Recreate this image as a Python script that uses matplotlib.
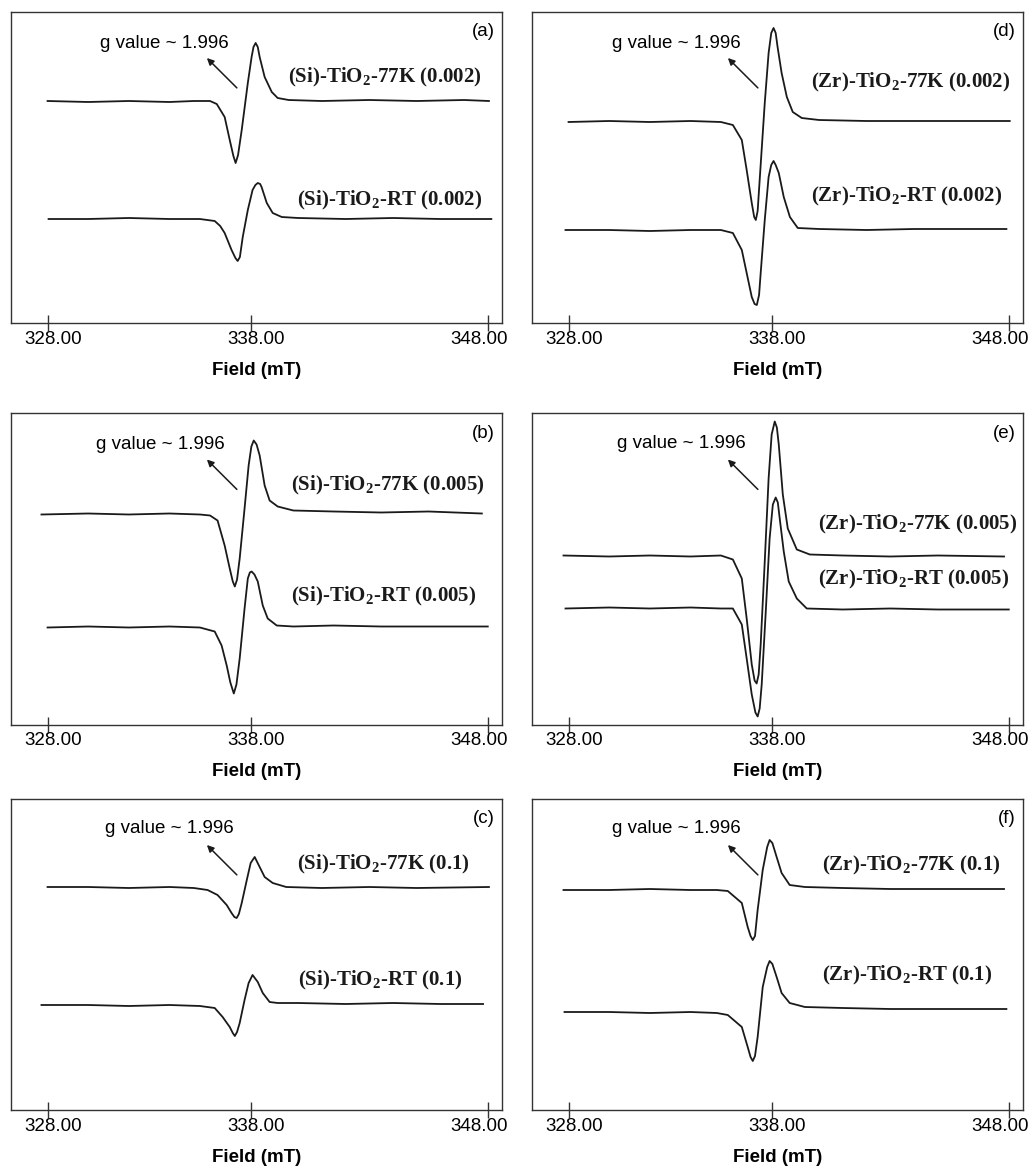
import numpy as np
import matplotlib
matplotlib.use('Agg')
import matplotlib.pyplot as plt
from matplotlib.transforms import ScaledTranslation

plt.rcParams['font.family'] = ['Liberation Sans', 'DejaVu Sans']
plt.rcParams['mathtext.fontset'] = 'custom'
plt.rcParams['mathtext.rm'] = 'Liberation Serif'
plt.rcParams['mathtext.bf'] = 'Liberation Serif:bold'

# EPR spectra, field in mT, intensity in arbitrary units
si_002_77k_x = [328.0, 330, 332, 334, 335.2, 336.0, 336.33, 336.72, 336.97, 337.15, 337.26, 337.38, 337.56, 337.86,
                338.04, 338.12, 338.21, 338.3, 338.38, 338.59, 338.89, 339.14, 339.6, 341, 343, 345, 347, 348.05]
si_002_77k_y = [222, 221, 222, 221, 222, 222, 219, 206, 183, 167, 160, 168, 193, 240,
                266, 276, 280, 276, 266, 246, 231, 225, 223, 222, 223, 222, 223, 222]
si_002_rt_x = [328.05, 330, 332, 334, 335.5, 336.23, 336.5, 336.72, 337.06, 337.25, 337.36, 337.47, 337.61, 337.86,
               338.08, 338.2, 338.3, 338.4, 338.46, 338.68, 338.93, 339.31, 340, 342, 344, 346, 348.15]
si_002_rt_y = [104, 104, 105, 104, 104, 102, 97, 90, 73, 65, 62, 66, 86, 113,
               133, 138, 140, 139, 136, 120, 110, 106, 105, 104, 105, 104, 104]

si_005_77k_x = [327.7, 330, 332, 334, 335.5, 336.0, 336.37, 336.72, 336.97, 337.12, 337.22, 337.33, 337.46, 337.7,
                337.9, 338.03, 338.13, 338.25, 338.38, 338.59, 338.8, 339.14, 339.8, 341.5, 343.5, 345.5, 347.75]
si_005_77k_y = [210, 211, 210, 211, 210, 209, 204, 179, 156, 143, 138, 145, 166, 216,
                259, 278, 284, 280, 269, 239, 224, 218, 214, 213, 212, 213, 211]
si_005_rt_x = [328, 330, 332, 334, 335.5, 336.23, 336.57, 336.82, 337.0, 337.17, 337.3, 337.46, 337.7, 337.86,
               337.96, 338.04, 338.16, 338.3, 338.51, 338.72, 339.1, 339.8, 341.5, 343.5, 345.5, 348]
si_005_rt_y = [97, 98, 97, 98, 97, 93, 79, 59, 42, 31, 40, 66, 116, 146,
               152, 153, 150, 143, 119, 106, 99, 98, 99, 98, 98, 98]

si_01_77k_x = [328, 330, 332, 334, 335.2, 335.88, 336.37, 336.82, 337.06, 337.2, 337.31, 337.42, 337.56, 337.81,
               338.0, 338.17, 338.38, 338.59, 338.93, 339.5, 341, 343, 345, 348.05]
si_01_77k_y = [223, 223, 222, 223, 222, 220, 215, 205, 197, 193, 192, 196, 207, 230,
               247, 253, 243, 233, 227, 223, 222, 223, 222, 223]
si_01_rt_x = [327.7, 330, 332, 334, 335.5, 336.23, 336.62, 336.97, 337.12, 337.22, 337.33, 337.46, 337.7, 337.9,
              338.08, 338.3, 338.51, 338.8, 339.14, 340, 342, 344, 346, 347.8]
si_01_rt_y = [105, 105, 104, 105, 104, 102, 93, 83, 77, 74, 78, 87, 110, 127,
              135, 128, 117, 108, 107, 107, 106, 107, 106, 106]

zr_002_77k_x = [328, 330, 332, 334, 335.5, 336.09, 336.53, 336.77, 337.02, 337.14, 337.22, 337.31, 337.41, 337.66,
                337.85, 337.98, 338.08, 338.17, 338.25, 338.42, 338.64, 338.89, 339.27, 340, 342, 344, 346, 348.04]
zr_002_77k_y = [201, 202, 201, 202, 201, 198, 183, 153, 120, 106, 103, 112, 143, 220,
                270, 290, 295, 290, 276, 250, 226, 211, 205, 203, 202, 202, 202, 202]
zr_002_rt_x = [327.85, 330, 332, 334, 335.5, 336.09, 336.53, 336.77, 337.02, 337.16, 337.27, 337.38, 337.46, 337.66,
               337.85, 337.98, 338.08, 338.17, 338.3, 338.51, 338.77, 339.1, 340, 342, 344, 346, 347.9]
zr_002_rt_y = [93, 93, 92, 93, 93, 90, 73, 50, 26, 19, 18, 28, 50, 103,
               146, 158, 162, 158, 150, 126, 106, 95, 94, 93, 94, 94, 94]

zr_005_77k_x = [327.75, 330, 332, 334, 335.5, 336.09, 336.53, 336.77, 337.02, 337.16, 337.26, 337.36, 337.46, 337.66,
                337.85, 338.0, 338.13, 338.22, 338.3, 338.47, 338.68, 339.06, 339.61, 341, 343, 345, 347.8]
zr_005_77k_y = [169, 168, 169, 168, 169, 165, 146, 106, 60, 44, 41, 50, 80, 163,
                246, 290, 303, 297, 280, 230, 196, 175, 170, 169, 168, 169, 168]
zr_005_rt_x = [327.85, 330, 332, 334, 335.5, 336.09, 336.53, 336.77, 337.02, 337.2, 337.31, 337.41, 337.51, 337.71,
               337.9, 338.05, 338.17, 338.26, 338.34, 338.51, 338.72, 339.06, 339.48, 341, 343, 345, 348.0]
zr_005_rt_y = [116, 117, 116, 117, 116, 116, 100, 66, 30, 12, 8, 16, 40, 113,
               186, 220, 227, 222, 206, 173, 143, 126, 116, 115, 116, 115, 115]

zr_01_77k_x = [327.75, 330, 332, 334, 335.3, 335.84, 336.53, 336.82, 336.96, 337.07, 337.18, 337.31, 337.56, 337.78,
               337.9, 338.03, 338.21, 338.42, 338.76, 339.4, 341, 343, 345, 347.8]
zr_01_77k_y = [220, 220, 221, 220, 220, 219, 207, 183, 174, 170, 174, 200, 240, 263,
               270, 267, 253, 237, 225, 223, 222, 221, 221, 221]
zr_01_rt_x = [327.8, 330, 332, 334, 335.3, 335.84, 336.53, 336.82, 336.96, 337.07, 337.18, 337.31, 337.56, 337.78,
              337.9, 338.03, 338.21, 338.42, 338.76, 339.4, 341, 343, 345, 347.9]
zr_01_rt_y = [98, 98, 97, 98, 97, 95, 83, 63, 53, 49, 54, 73, 123, 143,
              149, 146, 133, 117, 107, 103, 102, 101, 101, 101]

panel_letters = ['(a)', '(b)', '(c)', '(d)', '(e)', '(f)']
labels_77k = [r'(Si)-TiO$_\mathbf{2}$-77K (0.002)', r'(Si)-TiO$_\mathbf{2}$-77K (0.005)', r'(Si)-TiO$_\mathbf{2}$-77K (0.1)',
              r'(Zr)-TiO$_\mathbf{2}$-77K (0.002)', r'(Zr)-TiO$_\mathbf{2}$-77K (0.005)', r'(Zr)-TiO$_\mathbf{2}$-77K (0.1)']
labels_rt = [r'(Si)-TiO$_\mathbf{2}$-RT (0.002)', r'(Si)-TiO$_\mathbf{2}$-RT (0.005)', r'(Si)-TiO$_\mathbf{2}$-RT (0.1)',
             r'(Zr)-TiO$_\mathbf{2}$-RT (0.002)', r'(Zr)-TiO$_\mathbf{2}$-RT (0.005)', r'(Zr)-TiO$_\mathbf{2}$-RT (0.1)']
tick_fields = [328, 338, 348]
tick_labels = ['328.00', '338.00', '348.00']

curves = [
    (si_002_77k_x, si_002_77k_y, si_002_rt_x, si_002_rt_y),
    (si_005_77k_x, si_005_77k_y, si_005_rt_x, si_005_rt_y),
    (si_01_77k_x, si_01_77k_y, si_01_rt_x, si_01_rt_y),
    (zr_002_77k_x, zr_002_77k_y, zr_002_rt_x, zr_002_rt_y),
    (zr_005_77k_x, zr_005_77k_y, zr_005_rt_x, zr_005_rt_y),
    (zr_01_77k_x, zr_01_77k_y, zr_01_rt_x, zr_01_rt_y),
]

# label positions (axes fraction): 77K x, 77K y, RT x, RT y
label_pos = [
    (0.564, 0.791, 0.582, 0.395),
    (0.570, 0.770, 0.570, 0.412),
    (0.582, 0.788, 0.585, 0.415),
    (0.568, 0.772, 0.568, 0.408),
    (0.582, 0.643, 0.582, 0.466),
    (0.591, 0.785, 0.591, 0.434),
]
gvalue_pos = [(0.181, 0.90), (0.173, 0.90), (0.191, 0.904), (0.163, 0.90), (0.173, 0.904), (0.163, 0.904)]
# horizontal nudge of the tick labels, in points
tick_shift = [4, 4, -6]


# the original field axis is not evenly spaced around 338 mT
def fwd(x):
    x = np.asarray(x, dtype=float)
    return np.where(x < 338, (x - 338) * 20.3, (x - 338) * 23.7)


def inv(y):
    y = np.asarray(y, dtype=float)
    return np.where(y < 0, y / 20.3 + 338, y / 23.7 + 338)


fig = plt.figure(figsize=(10.3, 11.66), dpi=100)

col_x = [11 / 1030, 532 / 1030]
row_b = [(1166 - 323) / 1166, (1166 - 724.5) / 1166, (1166 - 1110) / 1166]
w = 491 / 1030
h = 311 / 1166

for i in range(6):
    col = i // 3
    row = i % 3
    ax = fig.add_axes([col_x[col], row_b[row], w, h])
    ax.set_xscale('function', functions=(fwd, inv))
    x77, y77, xrt, yrt = curves[i]
    ax.plot(x77, y77, color='#1a1a1a', lw=1.3)
    ax.plot(xrt, yrt, color='#1a1a1a', lw=1.3)
    ax.set_xlim(326.2, 348.6)
    ax.set_ylim(0, 311)
    ax.set_yticks([])
    ax.set_xticks(tick_fields)
    ax.set_xticklabels(tick_labels)
    ax.xaxis.set_minor_locator(matplotlib.ticker.NullLocator())
    ax.tick_params(axis='x', direction='inout', length=11, width=1, pad=0, labelsize=13.5, color='#333333')
    for lab, dx in zip(ax.get_xticklabels(), tick_shift):
        lab.set_transform(lab.get_transform() + ScaledTranslation(dx / 72, 0, fig.dpi_scale_trans))
    for s in ax.spines.values():
        s.set_color('#333333')
        s.set_linewidth(1.0)
    ax.set_xlabel('Field (mT)', fontsize=13.5, fontweight='bold')
    ax.xaxis.set_label_coords(0.5, -0.125)

    lx1, ly1, lx2, ly2 = label_pos[i]
    ax.text(lx1, ly1, labels_77k[i], transform=ax.transAxes, ha='left', va='center',
            fontsize=15, fontweight='bold', family='Liberation Serif', color='#1a1a1a')
    ax.text(lx2, ly2, labels_rt[i], transform=ax.transAxes, ha='left', va='center',
            fontsize=15, fontweight='bold', family='Liberation Serif', color='#1a1a1a')
    ax.text(0.985, 0.936, panel_letters[i], transform=ax.transAxes, ha='right', va='center', fontsize=13.5)
    gx, gy = gvalue_pos[i]
    ax.text(gx, gy, 'g value ~ 1.996', transform=ax.transAxes, ha='left', va='center', fontsize=13.5)
    ax.annotate('', xy=(0.399, 0.852), xycoords='axes fraction', xytext=(0.460, 0.756), textcoords='axes fraction',
                arrowprops=dict(arrowstyle='-|>', color='#1a1a1a', lw=1.1, mutation_scale=10, shrinkA=0, shrinkB=0))

fig.savefig('out.png', dpi=100)
